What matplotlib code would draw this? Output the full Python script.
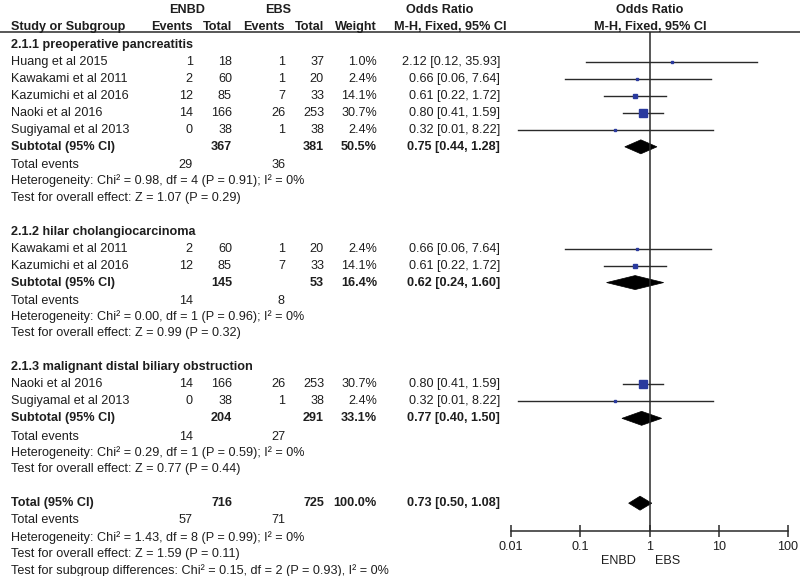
import numpy as np
import matplotlib
matplotlib.use("Agg")
import matplotlib.pyplot as plt
from matplotlib.patches import Polygon

plt.rcParams['font.family'] = ['Liberation Sans', 'DejaVu Sans']

# ---------------- data ----------------
study_names = ['Huang et al 2015', 'Kawakami et al 2011', 'Kazumichi et al 2016',
               'Naoki et al 2016', 'Sugiyamal et al 2013',
               'Kawakami et al 2011', 'Kazumichi et al 2016',
               'Naoki et al 2016', 'Sugiyamal et al 2013']
study_group = [0, 0, 0, 0, 0, 1, 1, 2, 2]
enbd_events = [1, 2, 12, 14, 0, 2, 12, 14, 0]
enbd_total = [18, 60, 85, 166, 38, 60, 85, 166, 38]
ebs_events = [1, 1, 7, 26, 1, 1, 7, 26, 1]
ebs_total = [37, 20, 33, 253, 38, 20, 33, 253, 38]
weights = [1.0, 2.4, 14.1, 30.7, 2.4, 2.4, 14.1, 30.7, 2.4]
odds = [2.12, 0.66, 0.61, 0.80, 0.32, 0.66, 0.61, 0.80, 0.32]
ci_low = [0.12, 0.06, 0.22, 0.41, 0.0128, 0.06, 0.22, 0.41, 0.0128]
ci_high = [35.93, 7.64, 1.72, 1.59, 8.22, 7.64, 1.72, 1.59, 8.22]

sub_names = ['2.1.1 preoperative pancreatitis', '2.1.2 hilar cholangiocarcinoma',
             '2.1.3 malignant distal biliary obstruction']
sub_enbd_total = [367, 145, 204]
sub_ebs_total = [381, 53, 291]
sub_weight = [50.5, 16.4, 33.1]
sub_or = [0.75, 0.62, 0.77]
sub_lo = [0.44, 0.24, 0.40]
sub_hi = [1.28, 1.60, 1.50]
sub_enbd_events = [29, 14, 14]
sub_ebs_events = [36, 8, 27]
sub_het = ['Heterogeneity: Chi\u00b2 = 0.98, df = 4 (P = 0.91); I\u00b2 = 0%',
           'Heterogeneity: Chi\u00b2 = 0.00, df = 1 (P = 0.96); I\u00b2 = 0%',
           'Heterogeneity: Chi\u00b2 = 0.29, df = 1 (P = 0.59); I\u00b2 = 0%']
sub_test = ['Test for overall effect: Z = 1.07 (P = 0.29)',
            'Test for overall effect: Z = 0.99 (P = 0.32)',
            'Test for overall effect: Z = 0.77 (P = 0.44)']

total_enbd = 716
total_ebs = 725
total_weight = 100.0
total_or = 0.73
total_lo = 0.50
total_hi = 1.08
total_enbd_events = 57
total_ebs_events = 71
total_het = 'Heterogeneity: Chi\u00b2 = 1.43, df = 8 (P = 0.99); I\u00b2 = 0%'
total_test = 'Test for overall effect: Z = 1.59 (P = 0.11)'
subgroup_diff = 'Test for subgroup differences: Chi\u00b2 = 0.15, df = 2 (P = 0.93), I\u00b2 = 0%'

axis_ticks = [0.01, 0.1, 1, 10, 100]
axis_ticklabels = ['0.01', '0.1', '1', '10', '100']

# ---------------- layout ----------------
W, H = 800, 576
fig = plt.figure(figsize=(W / 100, H / 100), dpi=100)
ax_t = fig.add_axes([0, 0, 1, 1])
ax_t.set_xlim(0, W)
ax_t.set_ylim(H, 0)
ax_t.axis('off')

TXT = '#1e1e1e'
LINE = '#2a2a2a'
BLUE = '#2a3a9e'
FS = 9.1

Y0, DY = 45, 16.97
def rowy(k):
    return Y0 + DY * k

X_NAME = 11
X_EEV, X_ETOT, X_BEV, X_BTOT, X_W, X_OR = 193, 232, 285, 324, 377, 500

fl, fr, ftop, fbot = 511, 788, 32, 531
ax_f = fig.add_axes([fl / W, (H - fbot) / H, (fr - fl) / W, (fbot - ftop) / H])
ax_f.set_xscale('log')
ax_f.set_xlim(0.01, 100)
ax_f.set_ylim(fbot, ftop)
ax_f.patch.set_alpha(0)
for s in ['top', 'right', 'left']:
    ax_f.spines[s].set_visible(False)
ax_f.spines['bottom'].set_color(LINE)
ax_f.spines['bottom'].set_linewidth(1.1)
ax_f.set_yticks([])
ax_f.set_xticks(axis_ticks)
ax_f.set_xticklabels(axis_ticklabels)
ax_f.minorticks_off()
ax_f.tick_params(axis='x', direction='inout', length=8, width=1.1, color=LINE,
                 labelsize=FS, labelcolor=TXT, pad=3)
ax_f.axvline(1, color=LINE, lw=1.1)

def t(x, k, s, ha='right', bold=False):
    ax_t.text(x, rowy(k), s, ha=ha, va='center', fontsize=FS, color=TXT,
              fontweight='bold' if bold else 'normal')

def diamond(k, est, lo, hi):
    y = rowy(k)
    h = 7
    ax_f.add_patch(Polygon([(lo, y), (est, y - h), (hi, y), (est, y + h)],
                           closed=True, facecolor='black', edgecolor='black', lw=0.5))

# headers
ax_t.text(187, 10, 'ENBD', ha='center', va='center', fontsize=FS, fontweight='bold', color=TXT)
ax_t.text(278, 10, 'EBS', ha='center', va='center', fontsize=FS, fontweight='bold', color=TXT)
ax_t.text(440, 10, 'Odds Ratio', ha='center', va='center', fontsize=FS, fontweight='bold', color=TXT)
ax_t.text(650, 10, 'Odds Ratio', ha='center', va='center', fontsize=FS, fontweight='bold', color=TXT)
hy = 27
ax_t.text(X_NAME, hy, 'Study or Subgroup', ha='left', va='center', fontsize=FS, fontweight='bold', color=TXT)
for x, s in [(X_EEV, 'Events'), (X_ETOT, 'Total'), (X_BEV, 'Events'), (X_BTOT, 'Total'), (X_W, 'Weight')]:
    ax_t.text(x, hy, s, ha='right', va='center', fontsize=FS, fontweight='bold', color=TXT)
ax_t.text(450, hy, 'M-H, Fixed, 95% CI', ha='center', va='center', fontsize=FS, fontweight='bold', color=TXT)
ax_t.text(650, hy, 'M-H, Fixed, 95% CI', ha='center', va='center', fontsize=FS, fontweight='bold', color=TXT)
ax_t.plot([0, W], [32, 32], color=LINE, lw=1.1)

k = 0
for g in range(len(sub_names)):
    t(X_NAME, k, sub_names[g], ha='left', bold=True)
    k += 1
    for i in range(len(study_names)):
        if study_group[i] != g:
            continue
        t(X_NAME, k, study_names[i], ha='left')
        t(X_EEV, k, str(enbd_events[i]))
        t(X_ETOT, k, str(enbd_total[i]))
        t(X_BEV, k, str(ebs_events[i]))
        t(X_BTOT, k, str(ebs_total[i]))
        t(X_W, k, f'{weights[i]:.1f}%')
        t(X_OR, k, f'{odds[i]:.2f} [{ci_low[i]:.2f}, {ci_high[i]:.2f}]')
        y = rowy(k)
        ax_f.plot([ci_low[i], ci_high[i]], [y, y], color=LINE, lw=1.0)
        ms = max(1.8, 5.2 * np.sqrt(weights[i] / 30.7))
        ax_f.plot([odds[i]], [y], marker='s', ms=ms, color=BLUE, mec=BLUE, lw=0)
        k += 1
    t(X_NAME, k, 'Subtotal (95% CI)', ha='left', bold=True)
    t(X_ETOT, k, str(sub_enbd_total[g]), bold=True)
    t(X_BTOT, k, str(sub_ebs_total[g]), bold=True)
    t(X_W, k, f'{sub_weight[g]:.1f}%', bold=True)
    t(X_OR, k, f'{sub_or[g]:.2f} [{sub_lo[g]:.2f}, {sub_hi[g]:.2f}]', bold=True)
    diamond(k, sub_or[g], sub_lo[g], sub_hi[g])
    k += 1
    t(X_NAME, k + 0.1, 'Total events', ha='left')
    t(X_EEV, k + 0.1, str(sub_enbd_events[g]))
    t(X_BEV, k + 0.1, str(sub_ebs_events[g]))
    k += 1
    t(X_NAME, k, sub_het[g], ha='left')
    k += 1
    t(X_NAME, k, sub_test[g], ha='left')
    k += 2

t(X_NAME, k, 'Total (95% CI)', ha='left', bold=True)
t(X_ETOT, k, str(total_enbd), bold=True)
t(X_BTOT, k, str(total_ebs), bold=True)
t(X_W, k, f'{total_weight:.1f}%', bold=True)
t(X_OR, k, f'{total_or:.2f} [{total_lo:.2f}, {total_hi:.2f}]', bold=True)
diamond(k, total_or, total_lo, total_hi)
k += 1
t(X_NAME, k, 'Total events', ha='left')
t(X_EEV, k, str(total_enbd_events))
t(X_BEV, k, str(total_ebs_events))
k += 1
t(X_NAME, k, total_het, ha='left')
k += 1
t(X_NAME, k, total_test, ha='left')
k += 1
t(X_NAME, k, subgroup_diff, ha='left')

ax_t.text(636, 561, 'ENBD', ha='right', va='center', fontsize=FS, color=TXT)
ax_t.text(655, 561, 'EBS', ha='left', va='center', fontsize=FS, color=TXT)

fig.savefig('out.png', dpi=100, facecolor='white')
